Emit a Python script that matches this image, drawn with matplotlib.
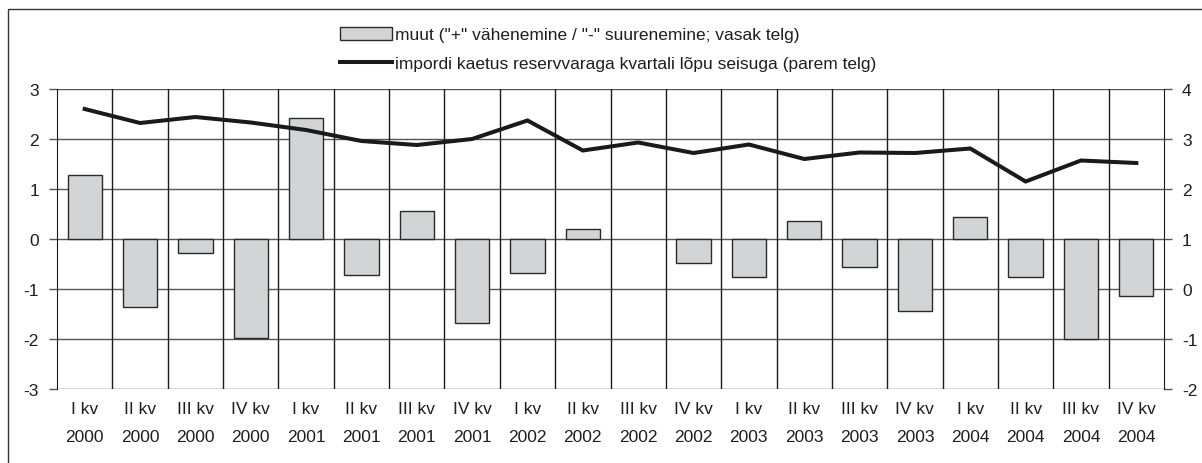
import matplotlib
matplotlib.use("Agg")
import matplotlib.pyplot as plt
import numpy as np
from matplotlib.patches import Rectangle

plt.rcParams['font.family'] = ['Liberation Sans', 'DejaVu Sans']

quarters = ["I kv", "II kv", "III kv", "IV kv"] * 5
years = ["2000"] * 4 + ["2001"] * 4 + ["2002"] * 4 + ["2003"] * 4 + ["2004"] * 4
tick_labels = [f"{q}\n{y}" for q, y in zip(quarters, years)]

muut = [1.28, -1.35, -0.27, -1.98, 2.43, -0.72, 0.57, -1.67, -0.67, 0.20,
        0.0, -0.47, -0.75, 0.37, -0.55, -1.43, 0.45, -0.75, -2.0, -1.14]
kaetus = [3.60, 3.32, 3.44, 3.33, 3.18, 2.96, 2.88, 3.00, 3.37, 2.77,
          2.93, 2.72, 2.89, 2.60, 2.73, 2.72, 2.81, 2.15, 2.57, 2.52]

label_bar = 'muut ("+" vähenemine / "-" suurenemine; vasak telg)'
label_line = 'impordi kaetus reservvaraga kvartali lõpu seisuga (parem telg)'

FS = 12.5
W, H = 1202, 464
fig = plt.figure(figsize=(W / 100, H / 100), dpi=100)
fig.patch.set_facecolor('white')

# outer frame (left and top visible)
fig.add_artist(Rectangle((8 / W, -0.1), 1.2, 1 - 10 / H + 0.1, transform=fig.transFigure,
                         fill=False, edgecolor='#333333', lw=1.0))

left, right, top, bottom = 57 / W, 1164 / W, 1 - 90 / H, 1 - 390 / H
ax = fig.add_axes([left, bottom, right - left, top - bottom])
ax2 = ax.twinx()

n = len(muut)
x = np.arange(n)

ax.set_xlim(-0.5, n - 0.5)
ax.set_ylim(-3, 3)
ax.set_yticks(np.arange(-3, 4, 1))
ax2.set_ylim(-2, 4)
ax2.set_yticks(np.arange(-2, 5, 1))

# grid
for yv in np.arange(-3, 4, 1):
    ax.axhline(yv, color='#555555', lw=1.0, zorder=1)
for xv in np.arange(0.5, n - 0.5, 1):
    ax.axvline(xv, color='#1a1a1a', lw=1.0, zorder=1)

bars = ax.bar(x, muut, width=0.62, color='#d3d4d6', edgecolor='#2a2a2a', lw=1.0, zorder=2,
              label=label_bar)
for b, v in zip(bars, muut):
    if v == 0:
        b.set_linewidth(0)
ax2.plot(x, kaetus, color='#1a1a1a', lw=2.9, solid_joinstyle='miter', zorder=3,
         label=label_line)

for a in (ax, ax2):
    for s in a.spines.values():
        s.set_visible(False)
ax.spines['left'].set_visible(True)
ax.spines['left'].set_color('#1a1a1a')
ax2.spines['right'].set_visible(True)
ax2.spines['right'].set_color('#1a1a1a')

ax.set_xticks(x)
ax.set_xticklabels(tick_labels, linespacing=2.0)
ax.tick_params(axis='x', length=0, pad=9, labelsize=FS, colors='#1e1e1e')
ax.tick_params(axis='y', length=6, width=1, color='#555555', pad=7, labelsize=FS,
               labelcolor='#1e1e1e')
ax2.tick_params(axis='y', length=6, width=1, color='#555555', pad=7, labelsize=FS,
                labelcolor='#1e1e1e')
ax.set_yticklabels([f"{v}" for v in range(-3, 4)])
ax2.set_yticklabels([f"{v}" for v in range(-2, 5)])

# legend
h1, l1 = ax.get_legend_handles_labels()
h2, l2 = ax2.get_legend_handles_labels()
leg = fig.legend(h1 + h2, l1 + l2, loc='upper left', bbox_to_anchor=(340 / W, 1 - 28 / H),
                 frameon=False, fontsize=FS, handlelength=3.0, handleheight=0.75,
                 handletextpad=0.15, labelspacing=0.75, borderpad=0, borderaxespad=0)
for t in leg.get_texts():
    t.set_color('#1e1e1e')

fig.savefig('out.png', dpi=100, facecolor='white')
